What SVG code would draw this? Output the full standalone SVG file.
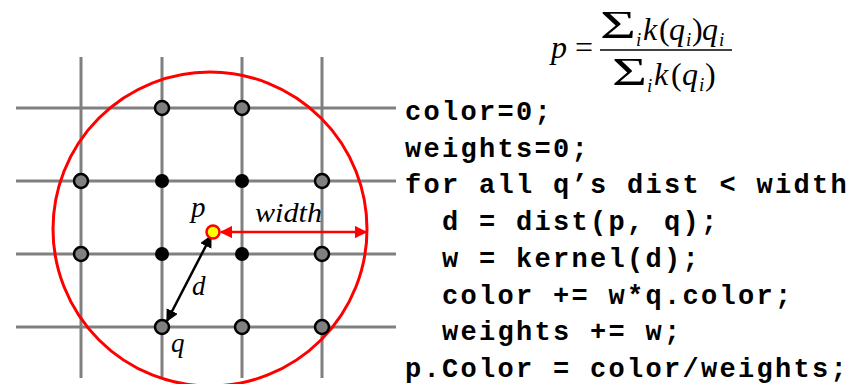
<svg xmlns="http://www.w3.org/2000/svg" width="867" height="384" viewBox="0 0 867 384">
<style>
.grid{stroke:#808080;stroke-width:3;fill:none}
.gn{fill:#808080;stroke:#000;stroke-width:2.5}
.bn{fill:#000}
.lbl{font-family:"Liberation Serif",serif;font-style:italic;fill:#000}
.code{font-family:"Liberation Mono",monospace;font-weight:bold;font-size:27px;letter-spacing:2.3px;fill:#000}
.math{font-family:"Liberation Serif",serif;fill:#000}
.it{font-style:italic}
.up{font-style:normal}
.sub{font-size:19px}
</style>
<defs>
<marker id="ab" viewBox="0 0 10 10" refX="9" refY="5" markerWidth="5" markerHeight="5" orient="auto-start-reverse"><path d="M0,0L10,5L0,10z" fill="#000"/></marker>
<marker id="ar" viewBox="0 0 10 10" refX="9" refY="5" markerWidth="5" markerHeight="5" orient="auto-start-reverse"><path d="M0,0L10,5L0,10z" fill="#f00"/></marker>
</defs>
<rect width="867" height="384" fill="#fff"/>
<g id="grid">
<path class="grid" d="M81,57V378M162,57V378M242,57V378M322,57V378M16,108H396M16,181H396M16,254H396M16,327H396"/>
</g>
<g id="kernel-circle"><circle cx="210" cy="229" r="157" fill="none" stroke="#f00" stroke-width="3"/></g>
<g id="connectors">
<line x1="211" y1="236" x2="167" y2="321" stroke="#000" stroke-width="2.5" marker-start="url(#ab)" marker-end="url(#ab)"/>
<line x1="221" y1="232" x2="366" y2="232" stroke="#f00" stroke-width="2.5" marker-start="url(#ar)" marker-end="url(#ar)"/>
</g>
<g id="nodes">
<g id="n-1-2"><circle class="gn" cx="162" cy="108" r="7"/></g>
<g id="n-1-3"><circle class="gn" cx="242" cy="108" r="7"/></g>
<g id="n-2-1"><circle class="gn" cx="81" cy="181" r="7"/></g>
<g id="n-2-2"><circle class="bn" cx="162" cy="181" r="7"/></g>
<g id="n-2-3"><circle class="bn" cx="242" cy="181" r="7"/></g>
<g id="n-2-4"><circle class="gn" cx="322" cy="181" r="7"/></g>
<g id="n-3-1"><circle class="gn" cx="81" cy="254" r="7"/></g>
<g id="n-3-2"><circle class="bn" cx="162" cy="254" r="7"/></g>
<g id="n-3-3"><circle class="bn" cx="242" cy="254" r="7"/></g>
<g id="n-3-4"><circle class="gn" cx="322" cy="254" r="7"/></g>
<g id="q"><circle class="gn" cx="162" cy="327" r="7"/></g>
<g id="n-4-3"><circle class="gn" cx="242" cy="327" r="7"/></g>
<g id="n-4-4"><circle class="gn" cx="322" cy="327" r="7"/></g>
<g id="p"><circle cx="213" cy="232" r="6.5" fill="#ff0" stroke="#f00" stroke-width="2.5"/></g>
</g>
<g id="labels">
<text class="lbl" x="191" y="217" font-size="29">p</text>
<text class="lbl" x="255" y="222" font-size="27" textLength="67" lengthAdjust="spacingAndGlyphs">width</text>
<text class="lbl" x="192" y="295" font-size="27">d</text>
<text class="lbl" x="171" y="352" font-size="27">q</text>
</g>
<g id="formula">
<text class="math it" font-size="32" x="551" y="58">p</text>
<text class="math" font-size="32" x="575" y="58">=</text>
<line x1="600" y1="50" x2="732" y2="50" stroke="#000" stroke-width="1.5"/>
<text class="math" font-size="40" x="600" y="38" textLength="36" lengthAdjust="spacingAndGlyphs">Σ</text>
<text class="math" font-size="40" x="612" y="85" textLength="35" lengthAdjust="spacingAndGlyphs">Σ</text>
<text class="math it" font-size="32" y="40"><tspan class="sub" x="636" y="46">i</tspan><tspan x="643" y="40">k</tspan><tspan class="up" x="659">(</tspan><tspan x="669">q</tspan><tspan class="sub" x="686" y="46">i</tspan><tspan class="up" x="692" y="40">)</tspan><tspan x="702">q</tspan><tspan class="sub" x="719" y="46">i</tspan></text>
<text class="math it" font-size="32" y="85"><tspan class="sub" x="647" y="92">i</tspan><tspan x="654" y="85">k</tspan><tspan class="up" x="671">(</tspan><tspan x="682">q</tspan><tspan class="sub" x="699" y="91">i</tspan><tspan class="up" x="705" y="85">)</tspan></text>
</g>
<g id="code">
<text class="code" x="405" y="120">color=0;</text>
<text class="code" x="405" y="156.5">weights=0;</text>
<text class="code" x="405" y="193">for all q’s dist &lt; width</text>
<text class="code" x="442" y="230">d = dist(p, q);</text>
<text class="code" x="442" y="267">w = kernel(d);</text>
<text class="code" x="442" y="304">color += w*q.color;</text>
<text class="code" x="442" y="340">weights += w;</text>
<text class="code" x="405" y="376.5">p.Color = color/weights;</text>
</g>
</svg>
